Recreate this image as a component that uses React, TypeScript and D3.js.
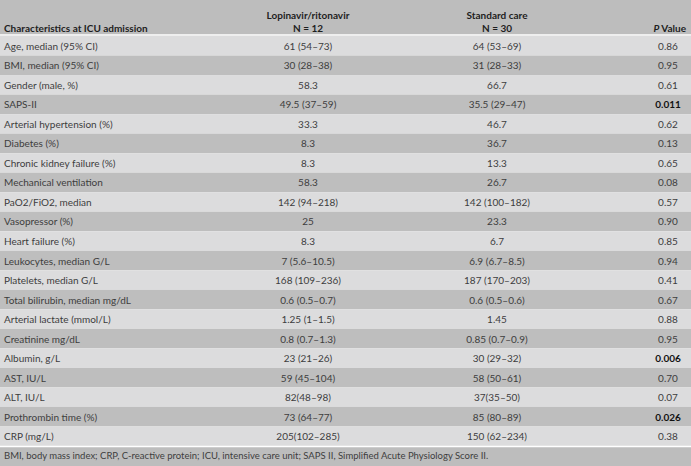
import { useEffect } from 'react';
import * as d3 from 'd3';

const characteristics = [
  'Age, median (95% CI)',
  'BMI, median (95% CI)',
  'Gender (male, %)',
  'SAPS-II',
  'Arterial hypertension (%)',
  'Diabetes (%)',
  'Chronic kidney failure (%)',
  'Mechanical ventilation',
  'PaO2/FiO2, median',
  'Vasopressor (%)',
  'Heart failure (%)',
  'Leukocytes, median G/L',
  'Platelets, median G/L',
  'Total bilirubin, median mg/dL',
  'Arterial lactate (mmol/L)',
  'Creatinine mg/dL',
  'Albumin, g/L',
  'AST, IU/L',
  'ALT, IU/L',
  'Prothrombin time (%)',
  'CRP (mg/L)',
];

const lopinavir = [
  '61 (54–73)', '30 (28–38)', '58.3', '49.5 (37–59)', '33.3', '8.3', '8.3', '58.3',
  '142 (94–218)', '25', '8.3', '7 (5.6–10.5)', '168 (109–236)', '0.6 (0.5–0.7)',
  '1.25 (1–1.5)', '0.8 (0.7–1.3)', '23 (21–26)', '59 (45–104)', '82(48–98)',
  '73 (64–77)', '205(102–285)',
];

const standardCare = [
  '64 (53–69)', '31 (28–33)', '66.7', '35.5 (29–47)', '46.7', '36.7', '13.3', '26.7',
  '142 (100–182)', '23.3', '6.7', '6.9 (6.7–8.5)', '187 (170–203)', '0.6 (0.5–0.6)',
  '1.45', '0.85 (0.7–0.9)', '30 (29–32)', '58 (50–61)', '37(35–50)',
  '85 (80–89)', '150 (62–234)',
];

const pValues = [
  '0.86', '0.95', '0.61', '0.011', '0.62', '0.13', '0.65', '0.08', '0.57', '0.90', '0.85',
  '0.94', '0.41', '0.67', '0.88', '0.95', '0.006', '0.70', '0.07', '0.026', '0.38',
];

const footnote =
  'BMI, body mass index; CRP, C-reactive protein; ICU, intensive care unit; SAPS II, Simplified Acute Physiology Score II.';

const width = 691;
const height = 466;
const headerH = 35;
const bodyTop = 36;
const bodyBottom = 446;
const font = 'Lato, "Open Sans", sans-serif';

export default function App() {
  useEffect(() => {
    document.body.style.margin = '0';
  }, []);

  const y = d3.scaleBand<number>()
    .domain(d3.range(characteristics.length))
    .range([bodyTop, bodyBottom]);

  // column centres
  const col = { label: 4, lop: 308, std: 497, p: 668 };

  return (
    <svg width={width} height={height} style={{ display: 'block', fontFamily: font }}>
      {/* header */}
      <rect x={0} y={0} width={width} height={bodyTop} fill="#bdbdbd" />
      <g fontSize={10} fontWeight={700} fill="#1e1e1e">
        <text x={col.label} y={32}>Characteristics at ICU admission</text>
        <text x={col.lop} y={19} textAnchor="middle">Lopinavir/ritonavir</text>
        <text x={col.lop} y={32} textAnchor="middle">N = 12</text>
        <text x={col.std} y={19} textAnchor="middle">Standard care</text>
        <text x={col.std} y={32} textAnchor="middle">N = 30</text>
        <text x={col.p + 18} y={32} textAnchor="end">
          <tspan fontStyle="italic">P</tspan> Value
        </text>
      </g>

      {/* body rows */}
      {characteristics.map((c, i) => {
        const top = y(i)!;
        const cy = top + y.bandwidth() / 2 + 4;
        const bold = parseFloat(pValues[i]) < 0.05;
        return (
          <g key={c}>
            <rect x={0} y={top} width={width} height={y.bandwidth()} fill={i % 2 === 0 ? '#dcdcdd' : '#bebebe'} />
            <g fontSize={10} fill="#3d3d3d">
              <text x={col.label} y={cy}>{c}</text>
              <text x={col.lop} y={cy} textAnchor="middle">{lopinavir[i]}</text>
              <text x={col.std} y={cy} textAnchor="middle">{standardCare[i]}</text>
              <text
                x={col.p}
                y={cy}
                textAnchor="middle"
                fontWeight={bold ? 700 : 400}
                fill={bold ? '#111' : '#3d3d3d'}
              >
                {pValues[i]}
              </text>
            </g>
          </g>
        );
      })}

      {/* footnote */}
      <rect x={0} y={bodyBottom} width={width} height={height - bodyBottom} fill="#bdbdbd" />
      <text x={col.label} y={459} fontSize={9.5} fill="#3d3d3d">{footnote}</text>

      {/* white rules */}
      <line x1={0} x2={width} y1={headerH} y2={headerH} stroke="#fff" strokeWidth={1.5} />
      <line x1={0} x2={width} y1={bodyBottom + 0.5} y2={bodyBottom + 0.5} stroke="#fff" strokeWidth={1.5} />
    </svg>
  );
}
